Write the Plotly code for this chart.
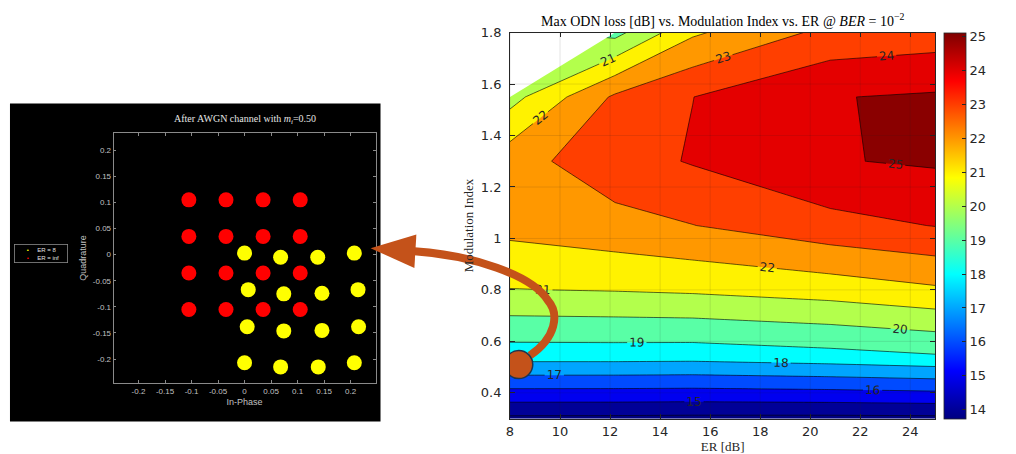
import numpy as np
import plotly.graph_objects as go

W, H = 1016, 454

# ---------------- left panel: received constellation ----------------
ER8_I = [0.000, 0.068, 0.138, 0.207,
         0.007, 0.074, 0.146, 0.214,
         0.005, 0.074, 0.146, 0.215,
         0.000, 0.068, 0.139, 0.207]
ER8_Q = [0.003, -0.005, -0.005, 0.003,
         -0.067, -0.075, -0.074, -0.067,
         -0.138, -0.146, -0.145, -0.138,
         -0.207, -0.215, -0.215, -0.207]
INF_I = [-0.105, -0.035, 0.035, 0.105,
         -0.105, -0.035, 0.035, 0.105,
         -0.105, -0.035, 0.035, 0.105,
         -0.105, -0.035, 0.035, 0.105]
INF_Q = [0.105, 0.105, 0.105, 0.105,
         0.035, 0.035, 0.035, 0.035,
         -0.035, -0.035, -0.035, -0.035,
         -0.105, -0.105, -0.105, -0.105]
SERIES_NAMES = ["ER = 8", "ER = inf"]
SERIES_COLORS = ["#ffff00", "#ff0000"]
IQ_TICKS = [-0.2, -0.15, -0.1, -0.05, 0, 0.05, 0.1, 0.15, 0.2]
IQ_TICKTEXT = ["-0.2", "-0.15", "-0.1", "-0.05", "0", "0.05", "0.1", "0.15", "0.2"]

# ---------------- right panel: max ODN loss map ----------------
ER_DB = [8, 12.2, 15.3, 20.8, 25]
MOD_INDEX = [0.3, 0.55, 0.8, 1.05, 1.3, 1.55, 1.8]
ODN_LOSS = [
    [13.79, 13.78, 13.75, 13.74, 13.77],
    [18.55, 18.55, 18.52, 18.75, 19.00],
    [20.97, 21.05, 21.15, 21.45, 21.85],
    [22.31, 22.66, 22.98, 23.66, 24.03],
    [22.60, 23.61, 24.07, 24.94, 25.12],
    [20.63, 23.16, 23.99, 24.96, 25.12],
    [None, 19.69, 21.85, 23.28, 23.50],
]
LEVEL_START, LEVEL_END, LEVEL_STEP = 14, 25, 1
ER_TICKS = [8, 10, 12, 14, 16, 18, 20, 22, 24]
MI_TICKS = [0.4, 0.6, 0.8, 1.0, 1.2, 1.4, 1.6, 1.8]
MI_TICKTEXT = ["0.4", "0.6", "0.8", "1", "1.2", "1.4", "1.6", "1.8"]
CB_TICKS = [14, 15, 16, 17, 18, 19, 20, 21, 22, 23, 24, 25]
HIGHLIGHT = (8.35, 0.51)

# ---------------- helpers ----------------
def jet(t):
    t = min(max(t, 0.0), 1.0)
    r = min(max(1.5 - abs(4 * t - 3), 0), 1)
    g = min(max(1.5 - abs(4 * t - 2), 0), 1)
    b = min(max(1.5 - abs(4 * t - 1), 0), 1)
    return "rgb(%d,%d,%d)" % (round(r * 255), round(g * 255), round(b * 255))

Z = np.array([[np.nan if v is None else v for v in row] for row in ODN_LOSS], dtype=float)
zmin, zmax = float(np.nanmin(Z)), float(np.nanmax(Z))
levels = np.arange(LEVEL_START, LEVEL_END + LEVEL_STEP, LEVEL_STEP)
lower_bounds = [zmin] + list(levels)
nb = len(lower_bounds) - 1
band_scale = [[k / nb, jet((lb - zmin) / (zmax - zmin))] for k, lb in enumerate(lower_bounds)]
jet_scale = [[k / 64, jet(k / 64)] for k in range(65)]

def px(x, y):
    return x / W, 1 - y / H

TXT = "#262626"
SERIF = "Liberation Serif"
SANS = "DejaVu Sans"
NB = "\u00a0"

fig = go.Figure()

# constellation
for xs, ys, name, col in [(ER8_I, ER8_Q, SERIES_NAMES[0], SERIES_COLORS[0]),
                          (INF_I, INF_Q, SERIES_NAMES[1], SERIES_COLORS[1])]:
    fig.add_trace(go.Scatter(x=xs, y=ys, mode="markers", name=name, showlegend=False,
                             marker=dict(color=col, size=15, line=dict(width=0)),
                             xaxis="x", yaxis="y", hoverinfo="skip"))

# colour bar carrier (continuous jet), covered by the filled contour
fig.add_trace(go.Heatmap(
    x=ER_DB, y=MOD_INDEX, z=Z, colorscale=jet_scale, zmin=zmin, zmax=zmax,
    showscale=True, hoverinfo="skip", xaxis="x2", yaxis="y2",
    colorbar=dict(x=944 / W, xanchor="left", y=1 - 418 / H, yanchor="bottom",
                  len=392 / H, lenmode="fraction", thickness=22, thicknessmode="pixels",
                  xpad=0, ypad=0, outlinewidth=0.8, outlinecolor=TXT,
                  tickvals=CB_TICKS, ticks="inside", ticklen=4, tickcolor=TXT,
                  tickfont=dict(size=13, family=SANS, color=TXT))))

fig.add_trace(go.Contour(
    x=ER_DB, y=MOD_INDEX, z=Z, autocontour=False,
    contours=dict(start=LEVEL_START, end=LEVEL_END, size=LEVEL_STEP, coloring="fill",
                  showlabels=True, labelformat=".0f",
                  labelfont=dict(size=12, family=SANS, color=TXT)),
    colorscale=band_scale, showscale=False,
    line=dict(color="black", width=0.6, smoothing=0),
    hoverinfo="skip", xaxis="x2", yaxis="y2"))

# missing-data region (left blank, like the original contourf)
ny = len(MOD_INDEX)
for i, j in zip(*np.where(np.isnan(Z))):
    i2 = i - 1 if i == ny - 1 else i + 1
    j2 = j + 1 if j == 0 else j - 1
    fig.add_trace(go.Scatter(
        x=[ER_DB[j], ER_DB[j], ER_DB[j2], ER_DB[j]],
        y=[MOD_INDEX[i], MOD_INDEX[i2], MOD_INDEX[i], MOD_INDEX[i]],
        mode="lines", fill="toself", fillcolor="white", line=dict(width=0),
        showlegend=False, hoverinfo="skip", xaxis="x2", yaxis="y2"))

shapes = []
# black background of the constellation screenshot
x0, y0 = px(6, 421)
x1, y1 = px(378, 98)
shapes.append(dict(type="rect", xref="paper", yref="paper", x0=x0, x1=x1, y0=y0, y1=y1,
                   fillcolor="black", line=dict(width=0), layer="below"))
# grid lines drawn over the filled contour (MATLAB style)
for v in ER_TICKS:
    shapes.append(dict(type="line", xref="x2", yref="y2 domain", x0=v, x1=v, y0=0, y1=1,
                       line=dict(color="rgba(38,38,38,0.15)", width=0.8), layer="above"))
for v in MI_TICKS:
    shapes.append(dict(type="line", xref="x2 domain", yref="y2", x0=0, x1=1, y0=v, y1=v,
                       line=dict(color="rgba(38,38,38,0.15)", width=0.8), layer="above"))

# curved arrow from the highlighted operating point to the constellation
ARROW = "#c4521a"
pts = [px(*p) for p in [(528, 354), (554, 336), (558, 312), (546, 298),
                        (530, 272), (470, 252), (412, 248)]]
path = "M %f,%f C %f,%f %f,%f %f,%f C %f,%f %f,%f %f,%f" % tuple(c for p in pts for c in p)
shapes.append(dict(type="path", xref="paper", yref="paper", path=path,
                   line=dict(color=ARROW, width=8), fillcolor="rgba(0,0,0,0)", layer="above"))
tri = [px(*p) for p in [(368, 245), (414, 231), (412, 265)]]
shapes.append(dict(type="path", xref="paper", yref="paper",
                   path="M %f,%f L %f,%f L %f,%f Z" % tuple(c for p in tri for c in p),
                   fillcolor=ARROW, line=dict(width=0), layer="above"))
shapes.append(dict(type="circle", xref="x2", yref="y2", xsizemode="pixel", ysizemode="pixel",
                   xanchor=HIGHLIGHT[0], yanchor=HIGHLIGHT[1], x0=-14, x1=14, y0=-14, y1=14,
                   fillcolor=ARROW, line=dict(color="#1d3550", width=1.5), layer="above"))

legend_text = "<br>".join(
    NB * 6 + "<span style='color:%s'>\u2022</span>" % c + NB * 5 + n + NB * 4
    for n, c in zip(SERIES_NAMES, SERIES_COLORS))

annotations = [
    dict(text="After AWGN channel with <i>m<sub>i</sub></i>=0.50", xref="paper", yref="paper",
         x=241.5 / W, y=1 - 114 / H, showarrow=False, xanchor="center", yanchor="middle",
         font=dict(family=SERIF, size=10, color="#e6e6e6")),
    dict(text="Max ODN loss [dB] vs. Modulation Index vs. ER @ <i>BER</i> = 10<sup>\u22122</sup>",
         xref="paper", yref="paper", x=721.5 / W, y=1 - 13 / H, showarrow=False,
         xanchor="center", yanchor="middle", font=dict(family=SERIF, size=14, color="black")),
    dict(text=legend_text, xref="paper", yref="paper", x=10 / W, y=1 - 241 / H,
         xanchor="left", yanchor="top", showarrow=False, align="left",
         bgcolor="black", bordercolor="#8a8a8a", borderwidth=0.8, borderpad=2,
         font=dict(family="Liberation Sans", size=6, color="#e0e0e0")),
]

left_axis = dict(showline=True, linecolor="#8a8a8a", linewidth=0.8, mirror="ticks",
                 ticks="inside", ticklen=3, tickcolor="#8a8a8a", showgrid=False, zeroline=False,
                 tickfont=dict(family="Liberation Sans", size=8, color="#c0c0c0"))
right_axis = dict(showline=True, linecolor=TXT, linewidth=0.8, mirror="ticks",
                  ticks="inside", ticklen=5, tickcolor=TXT, showgrid=False, zeroline=False,
                  layer="above traces",
                  tickfont=dict(family=SANS, size=13, color=TXT))

fig.update_layout(
    width=W, height=H, margin=dict(l=0, r=0, t=0, b=0),
    paper_bgcolor="white", plot_bgcolor="rgba(0,0,0,0)",
    showlegend=False,
    xaxis=dict(left_axis, domain=[110 / W, 373 / W], range=[-0.247, 0.247], anchor="y",
               tickvals=IQ_TICKS, ticktext=IQ_TICKTEXT,
               title=dict(text="In-Phase", standoff=4,
                          font=dict(family="Liberation Sans", size=9, color="#c0c0c0"))),
    yaxis=dict(left_axis, domain=[1 - 382 / H, 1 - 128 / H], range=[-0.246, 0.233], anchor="x",
               tickvals=IQ_TICKS, ticktext=IQ_TICKTEXT,
               title=dict(text="Quadrature", standoff=4,
                          font=dict(family="Liberation Sans", size=9, color="#c0c0c0"))),
    xaxis2=dict(right_axis, domain=[508 / W, 935 / W], range=[8, 25], anchor="y2",
                tickvals=ER_TICKS, ticklabelstandoff=1,
                title=dict(text="ER [dB]", standoff=3, font=dict(family=SERIF, size=13, color=TXT))),
    yaxis2=dict(right_axis, domain=[1 - 418 / H, 1 - 26 / H], range=[0.3, 1.8], anchor="x2",
                tickvals=MI_TICKS, ticktext=MI_TICKTEXT, ticklabelstandoff=5,
                title=dict(text="Modulation Index", standoff=4,
                           font=dict(family=SERIF, size=13, color=TXT))),
    shapes=shapes, annotations=annotations,
)

fig.write_html("out.html")
